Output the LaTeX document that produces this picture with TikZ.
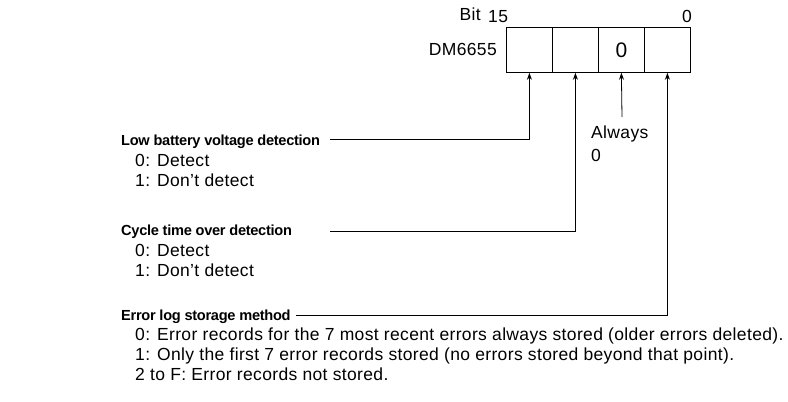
\documentclass[tikz,border=0pt]{standalone}
\usepackage{fontspec}
\setmainfont{Liberation Sans}
\newfontfamily\bodyfont{Liberation Sans}[LetterSpace=2]
\newfontfamily\headfont{Liberation Sans}[LetterSpace=-2]
\usetikzlibrary{arrows.meta}
\begin{document}
\begin{tikzpicture}[x=1pt,y=-1pt,
  txt/.style={anchor=base west,inner sep=0pt,font=\bodyfont\fontsize{17.5}{20}\selectfont},
  ttl/.style={anchor=base west,inner sep=0pt,font=\headfont\fontsize{14.6}{17}\selectfont\bfseries},
  cell/.style={draw,line width=0.8pt,minimum width=46pt,minimum height=45pt,inner sep=0pt,anchor=north west,font=\fontsize{21}{24}\selectfont},
  conn/.style={line width=0.8pt,-{Stealth[length=7pt,width=5pt]}}]
\useasboundingbox (0,0) rectangle (788,402);
% register
\node[cell] (c3) at (506,27) {};
\node[cell] (c2) at (552,27) {};
\node[cell] (c1) at (598,27) {0};
\node[cell] (c0) at (644,27) {};
\node[txt,anchor=base east] (bit) at (481,20) {Bit};
\node[txt] (b15) at (488,22) {15};
\node[txt] (b0) at (682,22) {0};
\node[txt,anchor=base east] (dm) at (497,55) {DM6655};
% always 0
\node[txt] (al) at (591,138) {Always};
\node[txt] (al0) at (591,161) {0};
\coordinate (alc) at (622,117);
\draw[conn] (alc) -- (c1.south);
% labels
\node[ttl] (t1) at (121,145) {Low battery voltage detection};
\node[txt] (t1a) at (135,166) {0: Detect};
\node[txt] (t1b) at (135,186) {1: Don’t detect};
\node[ttl] (t2) at (121,235) {Cycle time over detection};
\node[txt] (t2a) at (135,256) {0: Detect};
\node[txt] (t2b) at (135,276) {1: Don’t detect};
\node[ttl] (t3) at (121,320) {Error log storage method};
\node[txt] (t3a) at (135,340) {0: Error records for the 7 most recent errors always stored (older errors deleted).};
\node[txt] (t3b) at (135,360) {1: Only the first 7 error records stored (no errors stored beyond that point).};
\node[txt] (t3c) at (135,380) {2 to F: Error records not stored.};
% connectors
\coordinate (l1) at (330,139);
\coordinate (l2) at (330,231);
\coordinate (l3) at (296,315);
\draw[conn] (l1) -| (c3.south);
\draw[conn] (l2) -| (c2.south);
\draw[conn] (l3) -| (c0.south);
\end{tikzpicture}
\end{document}
